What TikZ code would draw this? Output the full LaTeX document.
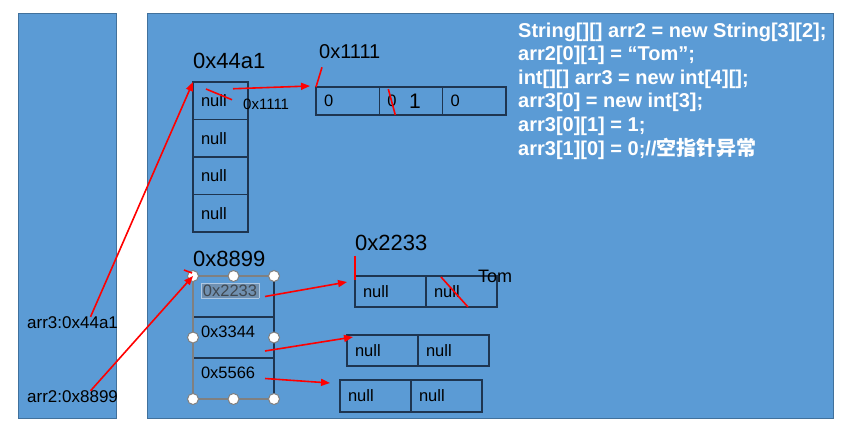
\documentclass[tikz,border=0pt]{standalone}
\usepackage{fontspec}
\setmainfont{Liberation Sans}
\newfontfamily\cjk{Noto Sans CJK SC}
\usetikzlibrary{arrows.meta, positioning, fit}

\definecolor{panelblue}{HTML}{5B9BD5}
\definecolor{panelline}{HTML}{41719C}
\definecolor{cellline}{HTML}{1E3550}
\definecolor{hilitefill}{HTML}{7090B0}
\definecolor{hiliteedge}{HTML}{AFC8E2}
\definecolor{hilitetext}{HTML}{404850}
\definecolor{selgray}{HTML}{808080}

\begin{document}
\begin{tikzpicture}[
    x=1pt, y=-1pt,
    panel/.style = {draw=panelline, fill=panelblue, line width=1pt},
    cell/.style = {draw=cellline, line width=1.2pt, outer sep=0pt, inner xsep=8pt, inner ysep=0pt,
                   align=left, font=\fontsize{16.5pt}{16.5pt}\selectfont},
    colcell/.style = {cell, text width=39pt, minimum height=37.5pt},
    numcell/.style = {cell, text width=47.3pt, minimum height=28pt},
    strcell/.style = {cell, text width=55pt, minimum height=31pt},
    refcell/.style = {cell, draw=none, text width=65pt, minimum height=41pt, text height=10pt, text depth=10pt},
    addr/.style = {font=\fontsize{22pt}{22pt}\selectfont, inner sep=0pt, anchor=west},
    small/.style = {font=\fontsize{17pt}{17pt}\selectfont, inner sep=0pt, anchor=west},
    code/.style = {font=\bfseries\fontsize{20pt}{23.6pt}\selectfont, text=white, align=left, inner sep=0pt},
    selbox/.style = {draw=selgray, line width=1.2pt, inner sep=0pt, outer sep=0pt},
    handle/.style = {circle, fill=white, draw=selgray, line width=1pt, minimum size=11pt, inner sep=0pt},
    strike/.style = {red, line width=1.6pt},
    arrow/.style = {strike, -{Triangle[length=9pt, width=7pt]}}
  ]
  \useasboundingbox (0,0) rectangle (845,423);

  % stack and heap panels
  \path[panel] (18,13) rectangle (116,418);
  \path[panel] (147,13) rectangle (833,418);

  % code
  \node[code, anchor=north west] (code) at (518,22.5) {String[][] arr2 = new String[3][2];\\
    arr2[0][1] = “Tom”;\\
    int[][] arr3 = new int[4][];\\
    arr3[0] = new int[3];\\
    arr3[0][1] = 1;\\
    arr3[1][0] = 0;//{\cjk 空指针异常}};

  % stack variables
  \node[small] (arr3) at (27,323) {arr3:0x44a1};
  \node[small] (arr2) at (27,397) {arr2:0x8899};

  % arr3: outer array
  \node[colcell, anchor=north west] (a0) at (193,82) {null};
  \node[colcell, below=0pt of a0] (a1) {null};
  \node[colcell, below=0pt of a1] (a2) {null};
  \node[colcell, below=0pt of a2] (a3) {null};
  \node[addr] (a44) at (193,61) {0x44a1};

  % arr3[0]
  \node[numcell, anchor=north west] (x0) at (316,87) {0};
  \node[numcell, right=0pt of x0] (x1) {0};
  \node[numcell, right=0pt of x1] (x2) {0};
  \node[addr, font=\fontsize{20pt}{20pt}\selectfont] (a11) at (319,52) {0x1111};
  \node[small, font=\fontsize{15pt}{15pt}\selectfont] (ref11) at (243,104) {0x1111};
  \node[font=\fontsize{21pt}{21pt}\selectfont, inner sep=0pt] (one) at (415,101) {1};

  % arr2: outer array
  \node[refcell, anchor=north west] (b0) at (193,276)
    {\setlength\fboxsep{1.5pt}\fcolorbox{hiliteedge}{hilitefill}{\textcolor{hilitetext}{0x2233}}};
  \node[refcell, below=0pt of b0] (b1) {0x3344};
  \node[refcell, below=0pt of b1] (b2) {0x5566};
  \node[addr] (a88) at (193,259) {0x8899};
  \draw[cellline, line width=1.2pt] (b1.north west) -- (b1.north east);
  \draw[cellline, line width=1.2pt] (b2.north west) -- (b2.north east);

  % arr2[0], arr2[1], arr2[2]
  \node[strcell, anchor=north west] (c0) at (355,276) {null};
  \node[strcell, right=0pt of c0] (c1) {null};
  \node[strcell, anchor=north west] (d0) at (347,335) {null};
  \node[strcell, right=0pt of d0] (d1) {null};
  \node[strcell, anchor=north west, minimum height=32pt] (e0) at (340,380) {null};
  \node[strcell, right=0pt of e0, minimum height=32pt] (e1) {null};
  \node[addr] (a22) at (355,243) {0x2233};
  \node[small, font=\fontsize{18pt}{18pt}\selectfont] (tom) at (478,276) {Tom};

  % selection frame
  \node[selbox, fit=(b0)(b1)(b2)] (sel) {};
  \draw[cellline, line width=1.2pt] (sel.north east) -- (sel.south east);
  \foreach \a in {north west, north, north east, west, east, south west, south, south east}
    \node[handle] at (sel.\a) {};

  % references
  \draw[arrow] ([xshift=18pt]arr3.north) -- (a0.north west);
  \draw[arrow] ([xshift=18pt]arr2.north) -- (b0.north west);
  \draw[arrow] ([xshift=-15pt, yshift=12pt]a0.east) -- ([xshift=-6pt, yshift=15pt]x0.west);
  \draw[arrow] ([xshift=-9pt]b0.east) -- ([xshift=-8pt, yshift=9.5pt]c0.west);
  \draw[arrow] ([xshift=-9pt, yshift=7pt]b1.south east) -- ([xshift=6pt, yshift=-2pt]d0.north west);
  \draw[arrow] ([xshift=-9pt]b2.east) -- ([xshift=-10pt, yshift=13pt]e0.west);

  % strike marks
  \draw[strike] ([xshift=13pt, yshift=-7pt]a0.north west) -- ([xshift=-16pt, yshift=1pt]a0.east);
  \draw[strike] ([xshift=3pt, yshift=-8pt]a11.south west) -- (x0.north west);
  \draw[strike] ([xshift=9pt, yshift=-2pt]x1.north west) -- ([xshift=16pt]x1.south west);
  \draw[strike] ([yshift=-5pt]a22.south west) -- ([yshift=-4pt]c0.north west);
  \draw[strike] ([xshift=15pt, yshift=-1pt]c1.north west) -- ([xshift=42pt]c1.south west);
  \draw[strike] ([xshift=-9pt, yshift=-3pt]a88.south west) -- ([xshift=-1pt, yshift=3pt]b0.north west);

\end{tikzpicture}
\end{document}
